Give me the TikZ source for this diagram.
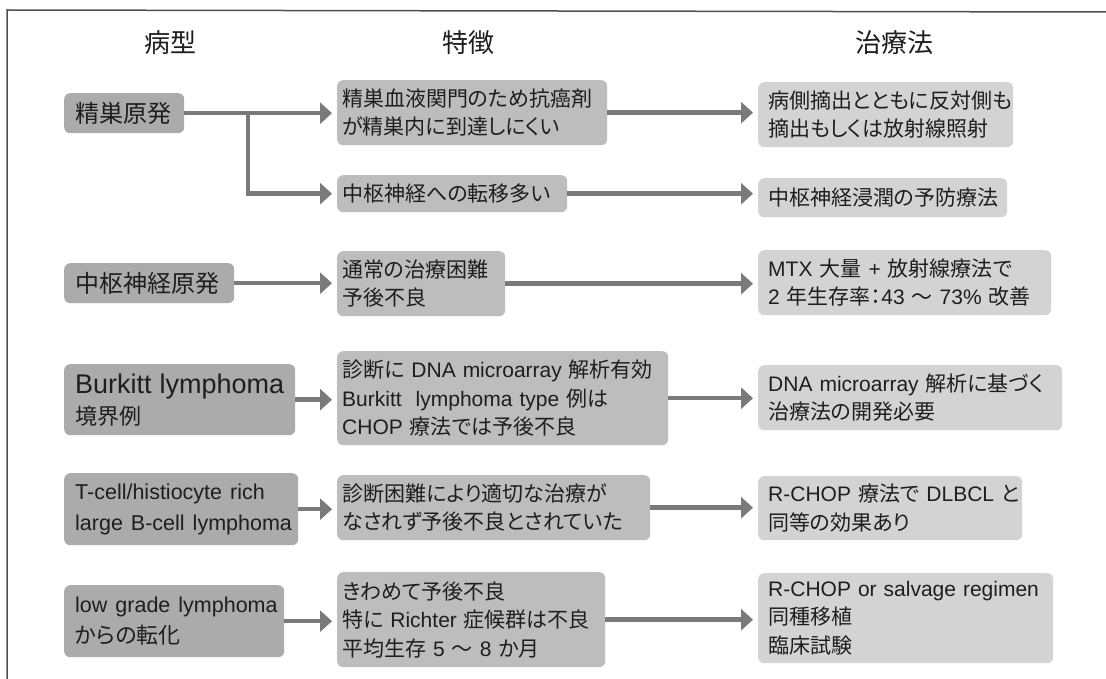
\documentclass[tikz,border=0pt]{standalone}
\usepackage{fontspec}
\setmainfont{Noto Sans CJK JP}[RawFeature=+palt]
\newfontfamily\la{Liberation Sans}
\usetikzlibrary{arrows.meta,calc}
\definecolor{c1col}{HTML}{ABABAB}
\definecolor{c2col}{HTML}{BDBDBD}
\definecolor{c3col}{HTML}{D3D3D3}
\definecolor{arrcol}{HTML}{7A7A7A}
\definecolor{framecol}{HTML}{505050}
\definecolor{txtcol}{HTML}{1E1E1E}
\begin{document}
\begin{tikzpicture}[x=1pt,y=-1pt,
  bx/.style={anchor=north west, rounded corners=6pt, inner ysep=0pt, align=left, text=txtcol},
  c1/.style={bx, fill=c1col, font=\fontsize{24}{31}\selectfont, inner xsep=11pt},
  c2/.style={bx, fill=c2col, font=\fontsize{21}{28.5}\selectfont, inner xsep=5pt},
  c3/.style={bx, fill=c3col, font=\fontsize{21}{28.5}\selectfont, inner xsep=10pt},
  hd/.style={font=\fontsize{26}{30}\selectfont, text=txtcol},
  arr/.style={draw=arrcol, line width=4.5pt, -{Triangle[length=12pt,width=21pt]}, shorten >=5pt}
]
\useasboundingbox (0,0) rectangle (1106,679);
\fill[white] (0,0) rectangle (1106,679);
\draw[framecol, line width=1.5pt] (7,679) -- (7,10) -- (1106,12);

% headers
\node[hd] (h1) at (170,43) {病型};
\node[hd] (h2) at (468,43) {特徴};
\node[hd] (h3) at (894,43) {治療法};

% column 1
\node[c1, text width=98pt,  minimum height=40pt] (A1) at (64,93)  {精巣原発};
\node[c1, text width=148pt, minimum height=40pt] (B1) at (64,263) {中枢神経原発};
\node[c1, text width=209pt, minimum height=71pt] (C1) at (64,364) {\mbox{\fontsize{27}{31}\la Burkitt lymphoma}\\\fontsize{22}{31}\selectfont 境界例};
\node[c1, text width=212pt, minimum height=72pt] (D1) at (64,473) {\mbox{\fontsize{21.5}{31}\la T-cell/histiocyte rich}\\\mbox{\fontsize{21.5}{31}\la large B-cell lymphoma}};
\node[c1, text width=198pt, minimum height=72pt] (E1) at (64,585) {\mbox{\fontsize{21.5}{31}\la low grade lymphoma}\\\fontsize{22}{31}\selectfont からの転化};

% column 2
\node[c2, text width=260pt, minimum height=65pt] (A2)  at (337,80)  {精巣血液関門のため抗癌剤\\が精巣内に到達しにくい};
\node[c2, text width=220pt, minimum height=37pt] (A2b) at (337,175) {中枢神経への転移多い};
\node[c2, text width=158pt, minimum height=65pt] (B2)  at (337,251) {通常の治療困難\\予後不良};
\node[c2, text width=321pt, minimum height=94pt] (C2)  at (337,351) {\mbox{診断に {\la DNA microarray} 解析有効}\\\mbox{{\la Burkitt\ \ lymphoma type} 例は}\\\mbox{{\la CHOP} 療法では予後不良}};
\node[c2, text width=303pt, minimum height=65pt] (D2)  at (337,475) {診断困難により適切な治療が\\なされず予後不良とされていた};
\node[c2, text width=258pt, minimum height=95pt] (E2)  at (337,572) {きわめて予後不良\\\mbox{特に {\la Richter} 症候群は不良}\\\mbox{平均生存 {\la 5} 〜 {\la 8} か月}};

% column 3
\node[c3, text width=235pt, minimum height=65pt] (A3)  at (758,82)  {病側摘出とともに反対側も\\摘出もしくは放射線照射};
\node[c3, text width=229pt, minimum height=39pt] (A3b) at (758,178) {中枢神経浸潤の予防療法};
\node[c3, text width=273pt, minimum height=65pt] (B3)  at (758,250) {\mbox{{\la MTX} 大量 {\la +} 放射線療法で}\\\mbox{{\la 2} 年生存率：{\la 43} 〜 {\la 73\%} 改善}};
\node[c3, text width=284pt, minimum height=65pt] (C3)  at (758,365) {\mbox{{\la DNA microarray} 解析に基づく}\\治療法の開発必要};
\node[c3, text width=244pt, minimum height=64pt] (D3)  at (758,476) {\mbox{{\la R-CHOP} 療法で {\la DLBCL} と}\\同等の効果あり};
\node[c3, text width=275pt, minimum height=90pt] (E3)  at (758,573) {\mbox{\la R-CHOP or salvage regimen}\\同種移植\\臨床試験};

% connectors
\coordinate (br) at (248,0 |- A1.east);
\draw[arr] (A1.east) -- (A1.east -| A2.west);
\draw[arr] (br) |- (A2b.west);
\draw[arr] (A2.east) -- (A2.east -| A3.west);
\draw[arr] (A2b.east) -- (A2b.east -| A3b.west);
\draw[arr] (B1.east) -- (B1.east -| B2.west);
\draw[arr] (B2.east) -- (B2.east -| B3.west);
\draw[arr] (C1.east) -- (C1.east -| C2.west);
\draw[arr] (C2.east) -- (C2.east -| C3.west);
\draw[arr] (D1.east) -- (D1.east -| D2.west);
\draw[arr] (D2.east) -- (D2.east -| D3.west);
\draw[arr] (E1.east) -- (E1.east -| E2.west);
\draw[arr] (E2.east) -- (E2.east -| E3.west);
\end{tikzpicture}
\end{document}
